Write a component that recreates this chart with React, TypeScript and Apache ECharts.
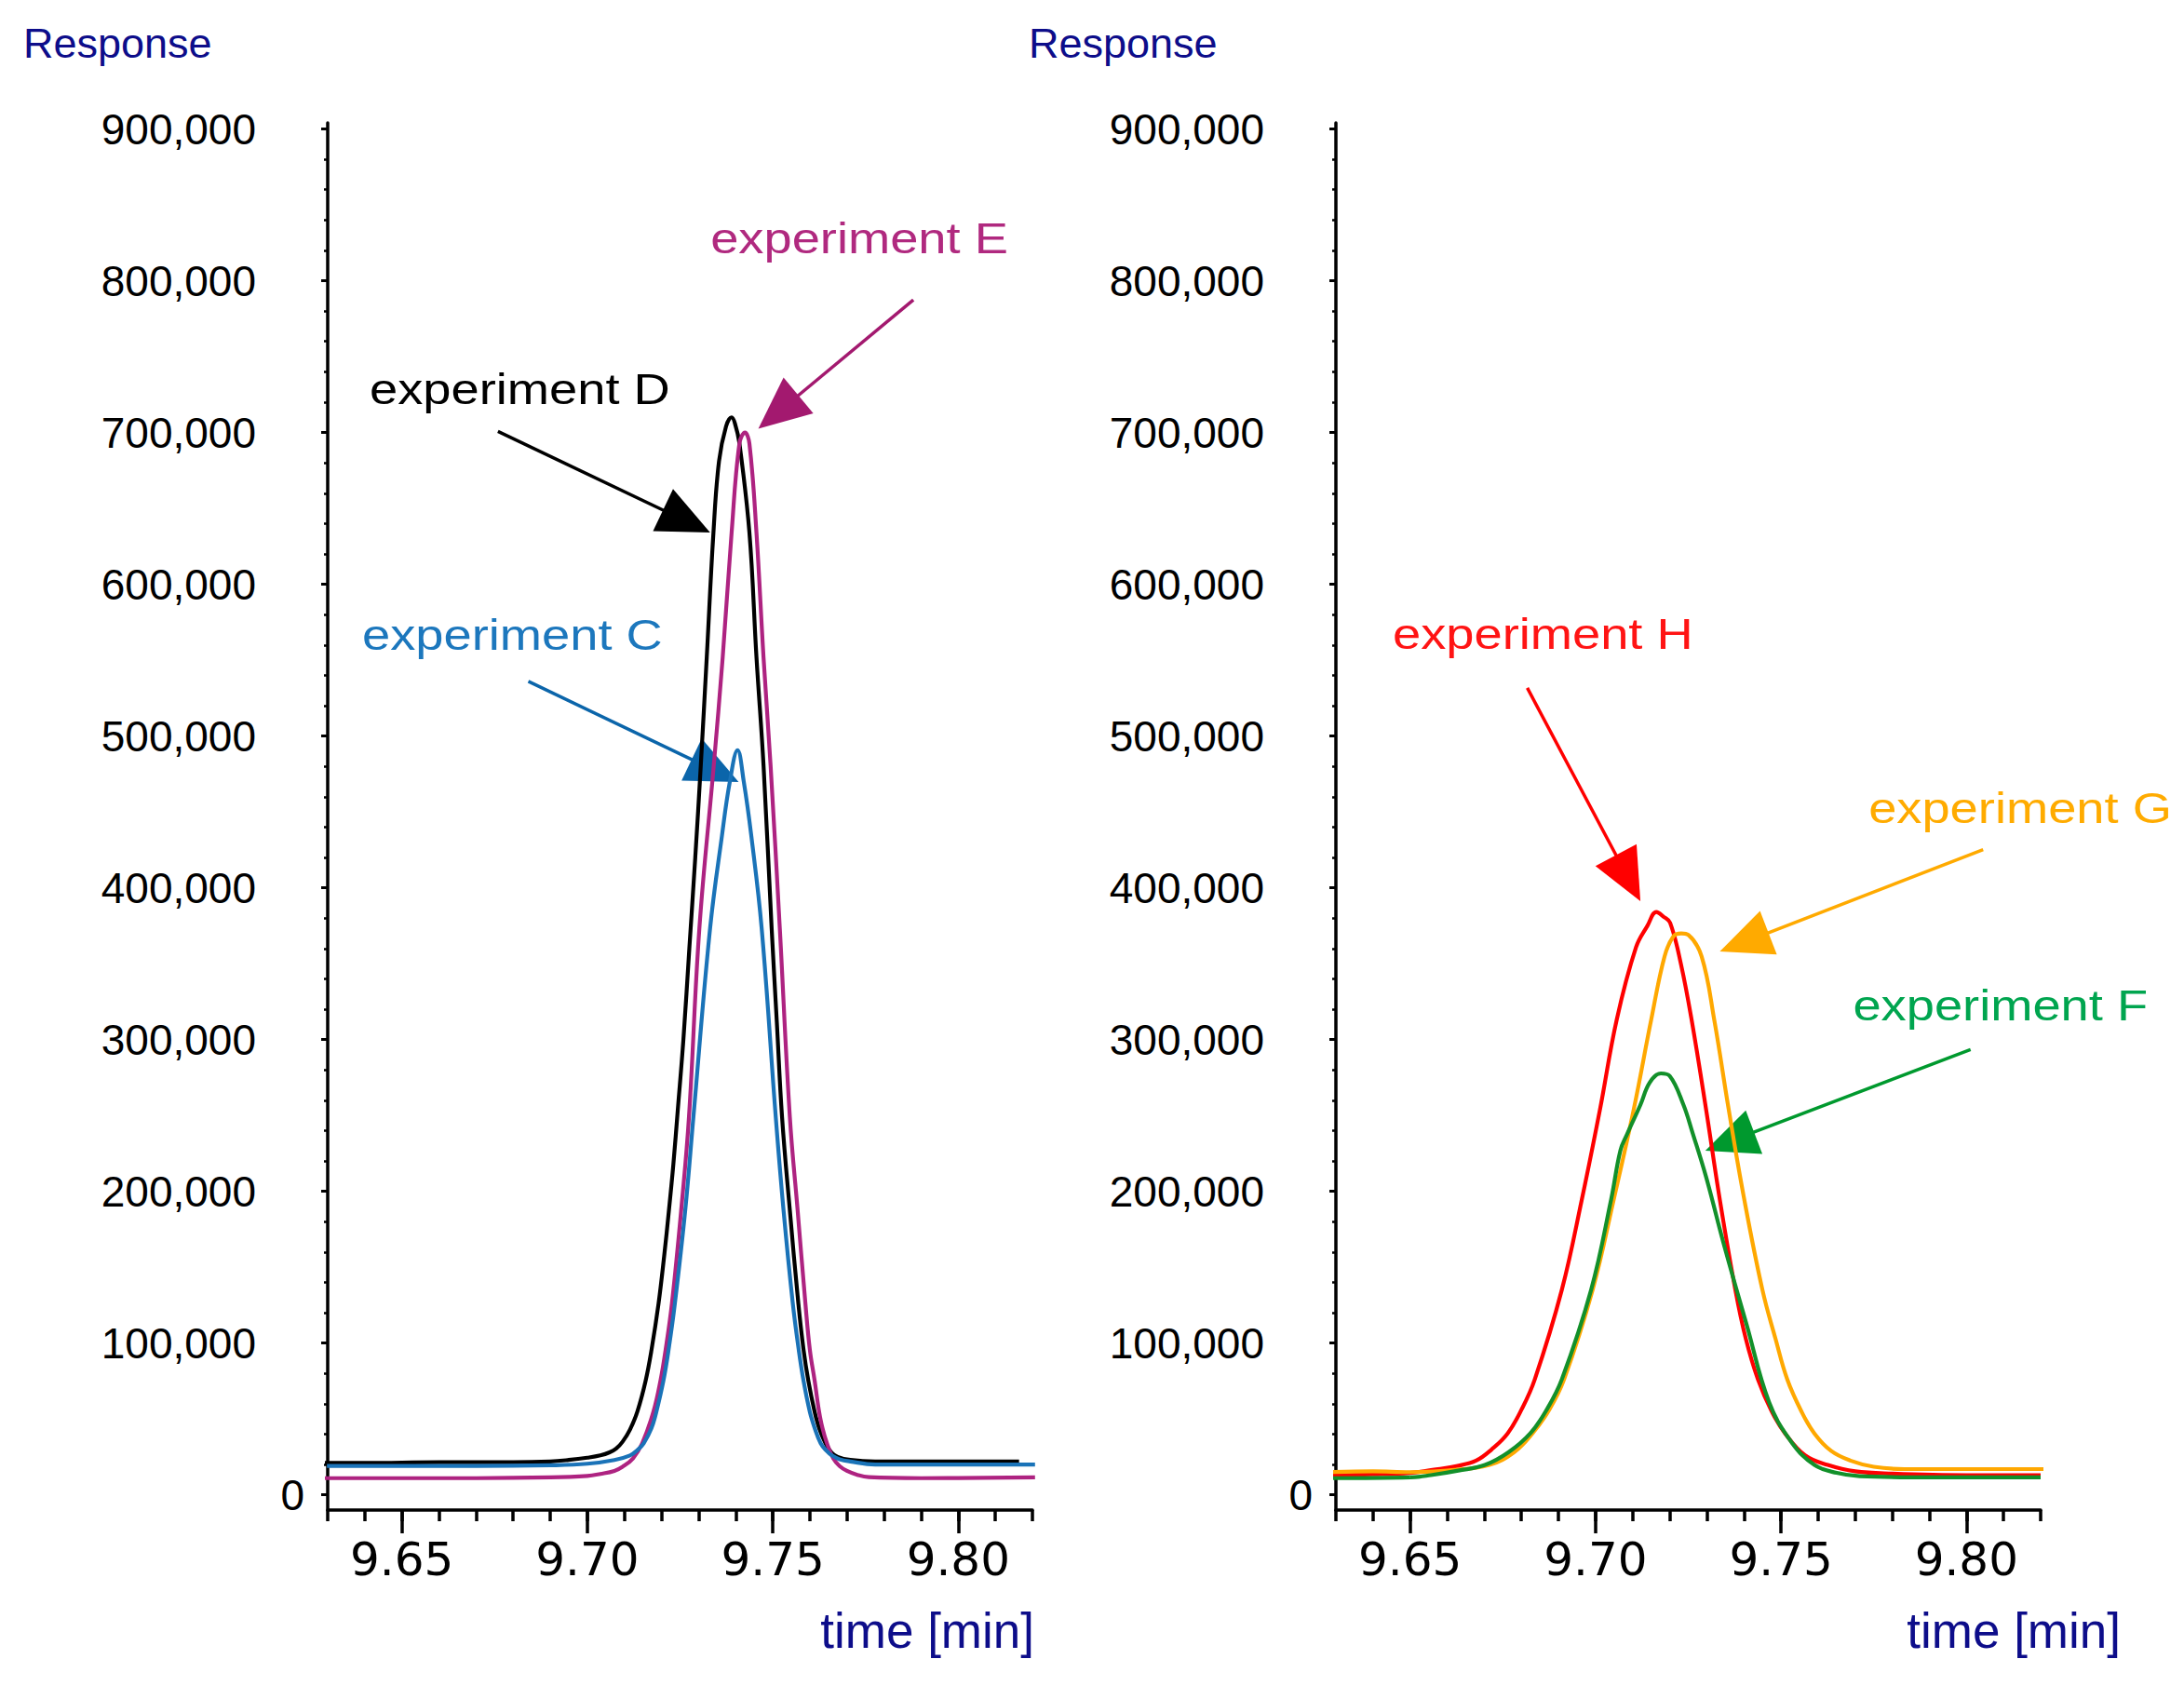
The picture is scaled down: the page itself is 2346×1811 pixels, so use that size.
import { useEffect, useRef } from 'react';
import * as echarts from 'echarts';

// retention time [min], response
const expD: [number, number][] = [
  [9.624, 21000], [9.64, 21000], [9.66, 21500], [9.68, 21500], [9.69, 22000],
  [9.695, 23000], [9.7, 24500], [9.7035, 26000], [9.706, 28000], [9.7078, 30500],
  [9.7095, 35000], [9.7115, 43000], [9.7135, 55000], [9.7157, 75000], [9.7173, 95500],
  [9.7192, 126000], [9.7207, 157000], [9.722, 187500], [9.7232, 218000], [9.7244, 254000],
  [9.7259, 300000], [9.7275, 360000], [9.7291, 420000], [9.7306, 481000], [9.7322, 552000],
  [9.734, 634000], [9.7355, 681000], [9.7374, 704000], [9.7389, 710000], [9.7398, 706000],
  [9.741, 693000], [9.7437, 634000], [9.7456, 552000], [9.7475, 481000], [9.7497, 373000],
  [9.7511, 311000], [9.7525, 249000], [9.7546, 187500], [9.7569, 126000], [9.7583, 95500],
  [9.7596, 75000], [9.7613, 54600], [9.7625, 44000], [9.7642, 34000], [9.7658, 28000],
  [9.7675, 25000], [9.7709, 23000], [9.7776, 22000], [9.79, 22000], [9.8164, 22000],
];
const expE: [number, number][] = [
  [9.628, 11000], [9.65, 11000], [9.67, 11000], [9.69, 11500], [9.7, 12500],
  [9.7035, 13800], [9.7073, 15800], [9.7095, 18500], [9.7123, 24000], [9.7148, 34000],
  [9.7178, 54600], [9.7197, 75000], [9.7211, 95500], [9.7228, 126000], [9.7253, 187500],
  [9.7274, 249000], [9.7302, 373000], [9.7341, 481000], [9.7365, 552000], [9.7389, 634000],
  [9.741, 692700], [9.7425, 700000], [9.7437, 692700], [9.7456, 634000], [9.7475, 552000],
  [9.7494, 481000], [9.7519, 373000], [9.7546, 249000], [9.7567, 187500], [9.7588, 126000],
  [9.76, 95500], [9.7613, 75000], [9.7625, 54600], [9.7634, 44000], [9.7646, 34000],
  [9.7663, 24000], [9.768, 19000], [9.77, 15800], [9.7728, 13200], [9.7759, 11700],
  [9.79, 11000], [9.8207, 11500],
];
const expC: [number, number][] = [
  [9.6298, 19000], [9.65, 19000], [9.67, 19000], [9.69, 19500], [9.7, 20500],
  [9.7073, 23000], [9.7115, 26000], [9.7135, 29500], [9.7152, 34000], [9.7173, 44000],
  [9.7186, 54600], [9.7205, 75000], [9.7219, 95500], [9.7236, 126000], [9.7264, 187500],
  [9.7286, 249000], [9.7331, 373400], [9.7363, 434400], [9.7384, 469600], [9.7405, 490700],
  [9.7422, 469600], [9.7442, 434400], [9.747, 373400], [9.7508, 249000], [9.7529, 187500],
  [9.7554, 126000], [9.757, 95500], [9.7583, 75000], [9.76, 54600], [9.7613, 44000],
  [9.7629, 34000], [9.7645, 29000], [9.7659, 26000], [9.768, 23500], [9.7709, 22000],
  [9.7776, 20000], [9.8, 20000], [9.8207, 20000],
];
const expH: [number, number][] = [
  [9.6286, 13000], [9.64, 13500], [9.65, 14500], [9.6575, 17000], [9.6625, 19000],
  [9.6678, 22600], [9.672, 30000], [9.6763, 40500], [9.68, 56000], [9.6836, 76000],
  [9.6909, 135000], [9.6963, 194600], [9.7012, 254000], [9.7057, 313000], [9.7109, 360700],
  [9.714, 375000], [9.7164, 384000], [9.7183, 381000], [9.7201, 377000], [9.723, 350000],
  [9.7259, 313000], [9.7298, 254000], [9.7335, 194600], [9.7377, 135000], [9.7405, 103000],
  [9.7438, 76000], [9.7475, 55000], [9.7511, 40500], [9.7565, 26000], [9.7626, 19700],
  [9.77, 15500], [9.78, 14000], [9.8, 13000], [9.82, 13000],
];
const expG: [number, number][] = [
  [9.6286, 15000], [9.64, 15500], [9.65, 15000], [9.66, 16000], [9.6714, 19700],
  [9.678, 28000], [9.683, 40500], [9.6875, 56000], [9.6915, 76000], [9.6992, 135000],
  [9.7049, 194600], [9.7103, 254000], [9.715, 313000], [9.7186, 354700], [9.721, 368000],
  [9.7231, 370000], [9.725, 369000], [9.7286, 354700], [9.732, 313000], [9.7359, 254000],
  [9.7401, 194600], [9.745, 135000], [9.7485, 103000], [9.7517, 76000], [9.7555, 55000],
  [9.759, 40500], [9.7635, 29000], [9.7687, 22600], [9.775, 18500], [9.7833, 17000],
  [9.8, 17000], [9.8247, 17000],
];
const expF: [number, number][] = [
  [9.6286, 11000], [9.65, 11500], [9.6556, 13000], [9.663, 16000], [9.6702, 19700],
  [9.6765, 28000], [9.6824, 40500], [9.6868, 56000], [9.6909, 76000], [9.6988, 135000],
  [9.7042, 194600], [9.7067, 227000], [9.7085, 237600], [9.7121, 257000], [9.7146, 271700],
  [9.7176, 277700], [9.72, 276000], [9.7237, 257000], [9.7261, 239000], [9.7298, 209500],
  [9.7346, 165000], [9.7408, 111600], [9.7468, 61000], [9.7529, 34500], [9.759, 19700],
  [9.765, 14500], [9.7712, 12300], [9.79, 11500], [9.82, 11500],
];

// tick labels
const yTickValues = [0, 100000, 200000, 300000, 400000, 500000, 600000, 700000, 800000, 900000];
const xTickLabels = [9.65, 9.7, 9.75, 9.8];

const X_MIN = 9.63;
const X_MAX = 9.82;
const Y_MIN = -10000;
const Y_MAX = 904000;

// small unlabelled ticks: every 0.01 min, every 20,000 counts
const xMinorTicks = Array.from({ length: 20 }, (_, i) => +(X_MIN + i * 0.01).toFixed(2));
const yMinorTicks = Array.from({ length: 46 }, (_, i) => i * 20000);

// annotation labels and arrows, in data coordinates of each panel
interface Note {
  grid: number;
  text: string;
  textAt: [number, number];
  from: [number, number];
  to: [number, number];
  textColor: string;
  arrowColor: string;
}
const notes: Note[] = [
  { grid: 0, text: 'experiment E', textAt: [9.7332, 827900], from: [9.7879, 787400], to: [9.7461, 702500], textColor: '#b0297f', arrowColor: '#a3196f' },
  { grid: 0, text: 'experiment D', textAt: [9.6413, 728600], from: [9.6759, 700700], to: [9.7331, 634100], textColor: '#000000', arrowColor: '#000000' },
  { grid: 0, text: 'experiment C', textAt: [9.6393, 566600], from: [9.6841, 536000], to: [9.7408, 469700], textColor: '#1c77bd', arrowColor: '#0b65aa' },
  { grid: 1, text: 'experiment H', textAt: [9.6453, 567200], from: [9.6816, 531700], to: [9.7121, 391200], textColor: '#ff1414', arrowColor: '#ff0000' },
  { grid: 1, text: 'experiment G', textAt: [9.7736, 452500], from: [9.8045, 425100], to: [9.7335, 358000], textColor: '#ffab00', arrowColor: '#ffaa00' },
  { grid: 1, text: 'experiment F', textAt: [9.7694, 322500], from: [9.8011, 293400], to: [9.7296, 226800], textColor: '#00a54f', arrowColor: '#00992e' },
];

const NAVY = '#0d0d8a';
const AXIS_FONT = '"Liberation Sans", Arial, sans-serif';

const buildAxes = (grid: number) => {
  const xMain = {
    type: 'value',
    gridIndex: grid,
    position: 'bottom',
    min: X_MIN,
    max: X_MAX,
    axisLine: { show: true, onZero: false, lineStyle: { color: '#000', width: 3.5 } },
    axisTick: { show: true, customValues: xTickLabels, length: 25, lineStyle: { color: '#000', width: 3.5 } },
    axisLabel: {
      show: true,
      customValues: xTickLabels,
      formatter: (v: number) => v.toFixed(2),
      fontFamily: '"DejaVu Sans", sans-serif',
      fontSize: 50,
      color: '#000',
      margin: 28,
    },
    splitLine: { show: false },
  };
  const xMinor = {
    type: 'value',
    gridIndex: grid,
    position: 'bottom',
    min: X_MIN,
    max: X_MAX,
    axisLine: { show: false, onZero: false },
    axisTick: { show: true, customValues: xMinorTicks, length: 12, lineStyle: { color: '#000', width: 3.5 } },
    axisLabel: { show: false },
    splitLine: { show: false },
  };
  const yMain = {
    type: 'value',
    gridIndex: grid,
    position: 'left',
    min: Y_MIN,
    max: Y_MAX,
    axisLine: { show: true, onZero: false, lineStyle: { color: '#000', width: 3.5 } },
    axisTick: { show: true, customValues: yTickValues, length: 7, lineStyle: { color: '#000', width: 3 } },
    axisLabel: {
      show: true,
      customValues: yTickValues.filter((v) => v > 0),
      formatter: (v: number) => v.toLocaleString('en-US'),
      fontFamily: AXIS_FONT,
      fontSize: 46,
      color: '#000',
      margin: 77,
    },
    splitLine: { show: false },
  };
  const yMinor = {
    type: 'value',
    gridIndex: grid,
    position: 'left',
    min: Y_MIN,
    max: Y_MAX,
    axisLine: { show: false, onZero: false },
    axisTick: { show: true, customValues: yMinorTicks, length: 4, lineStyle: { color: '#000', width: 2.5 } },
    axisLabel: {
      show: true,
      customValues: [0],
      formatter: (v: number) => String(v),
      fontFamily: AXIS_FONT,
      fontSize: 46,
      color: '#000',
      margin: 25,
    },
    splitLine: { show: false },
  };
  return { x: [xMain, xMinor], y: [yMain, yMinor] };
};

const lineSeries = (name: string, data: [number, number][], color: string, grid: number) => ({
  name,
  type: 'line',
  xAxisIndex: grid * 2,
  yAxisIndex: grid * 2,
  data,
  symbol: 'none',
  showSymbol: false,
  smooth: 0.4,
  clip: false,
  silent: true,
  lineStyle: { color, width: 4.2 },
  itemStyle: { color },
});

const App = () => {
  const chartRef = useRef<HTMLDivElement>(null);

  useEffect(() => {
    if (!chartRef.current) return;
    const chart = echarts.init(chartRef.current, null, { renderer: 'svg' });

    const left = buildAxes(0);
    const right = buildAxes(1);

    chart.setOption({
      animation: false,
      backgroundColor: '#ffffff',
      grid: [
        { left: 352, top: 132, width: 757, height: 1490 },
        { left: 1435, top: 132, width: 757, height: 1490 },
      ],
      xAxis: [...left.x, ...right.x],
      yAxis: [...left.y, ...right.y],
      series: [
        lineSeries('experiment D', expD, '#000000', 0),
        lineSeries('experiment E', expE, '#ae2381', 0),
        lineSeries('experiment C', expC, '#1a73b8', 0),
        lineSeries('experiment H', expH, '#ff0000', 1),
        lineSeries('experiment G', expG, '#ffa800', 1),
        lineSeries('experiment F', expF, '#12902a', 1),
      ],
    });

    // annotations placed from data coordinates
    const toPx = (grid: number, p: [number, number]) =>
      chart.convertToPixel({ xAxisIndex: grid * 2, yAxisIndex: grid * 2 }, p) as number[];

    const HEAD_L = 56;
    const HEAD_W = 25;
    const graphics: any[] = [];

    notes.forEach((n) => {
      const a = toPx(n.grid, n.from);
      const b = toPx(n.grid, n.to);
      const dx = b[0] - a[0];
      const dy = b[1] - a[1];
      const len = Math.hypot(dx, dy);
      const ux = dx / len;
      const uy = dy / len;
      const bx = b[0] - ux * HEAD_L;
      const by = b[1] - uy * HEAD_L;
      graphics.push({
        type: 'line',
        silent: true,
        shape: { x1: a[0], y1: a[1], x2: bx + ux * 6, y2: by + uy * 6 },
        style: { stroke: n.arrowColor, lineWidth: 3.5 },
      });
      graphics.push({
        type: 'polygon',
        silent: true,
        shape: {
          points: [
            [b[0], b[1]],
            [bx - uy * HEAD_W, by + ux * HEAD_W],
            [bx + uy * HEAD_W, by - ux * HEAD_W],
          ],
        },
        style: { fill: n.arrowColor },
      });
      const t = toPx(n.grid, n.textAt);
      graphics.push({
        type: 'text',
        silent: true,
        x: t[0],
        y: t[1],
        scaleX: 1.18,
        style: {
          text: n.text,
          fill: n.textColor,
          font: `46px ${AXIS_FONT}`,
          textAlign: 'left',
          textVerticalAlign: 'middle',
          align: 'left',
          verticalAlign: 'middle',
        },
      });
    });

    // axis titles
    const title = (text: string, x: number, y: number, size: number, align: string) => ({
      type: 'text',
      silent: true,
      x,
      y,
      style: {
        text,
        fill: NAVY,
        font: `${size}px ${AXIS_FONT}`,
        textAlign: align,
        textVerticalAlign: 'middle',
        align,
        verticalAlign: 'middle',
      },
    });
    graphics.push(title('Response', 25, 46, 45, 'left'));
    graphics.push(title('Response', 1105, 46, 45, 'left'));
    graphics.push(title('time [min]', 1111, 1751, 53, 'right'));
    graphics.push(title('time [min]', 2278, 1751, 53, 'right'));

    chart.setOption({ graphic: graphics });

    return () => {
      chart.dispose();
    };
  }, []);

  return (
    <div
      ref={chartRef}
      style={{ position: 'fixed', left: 0, top: 0, width: '2346px', height: '1811px', background: '#fff' }}
    />
  );
};

export default App;
